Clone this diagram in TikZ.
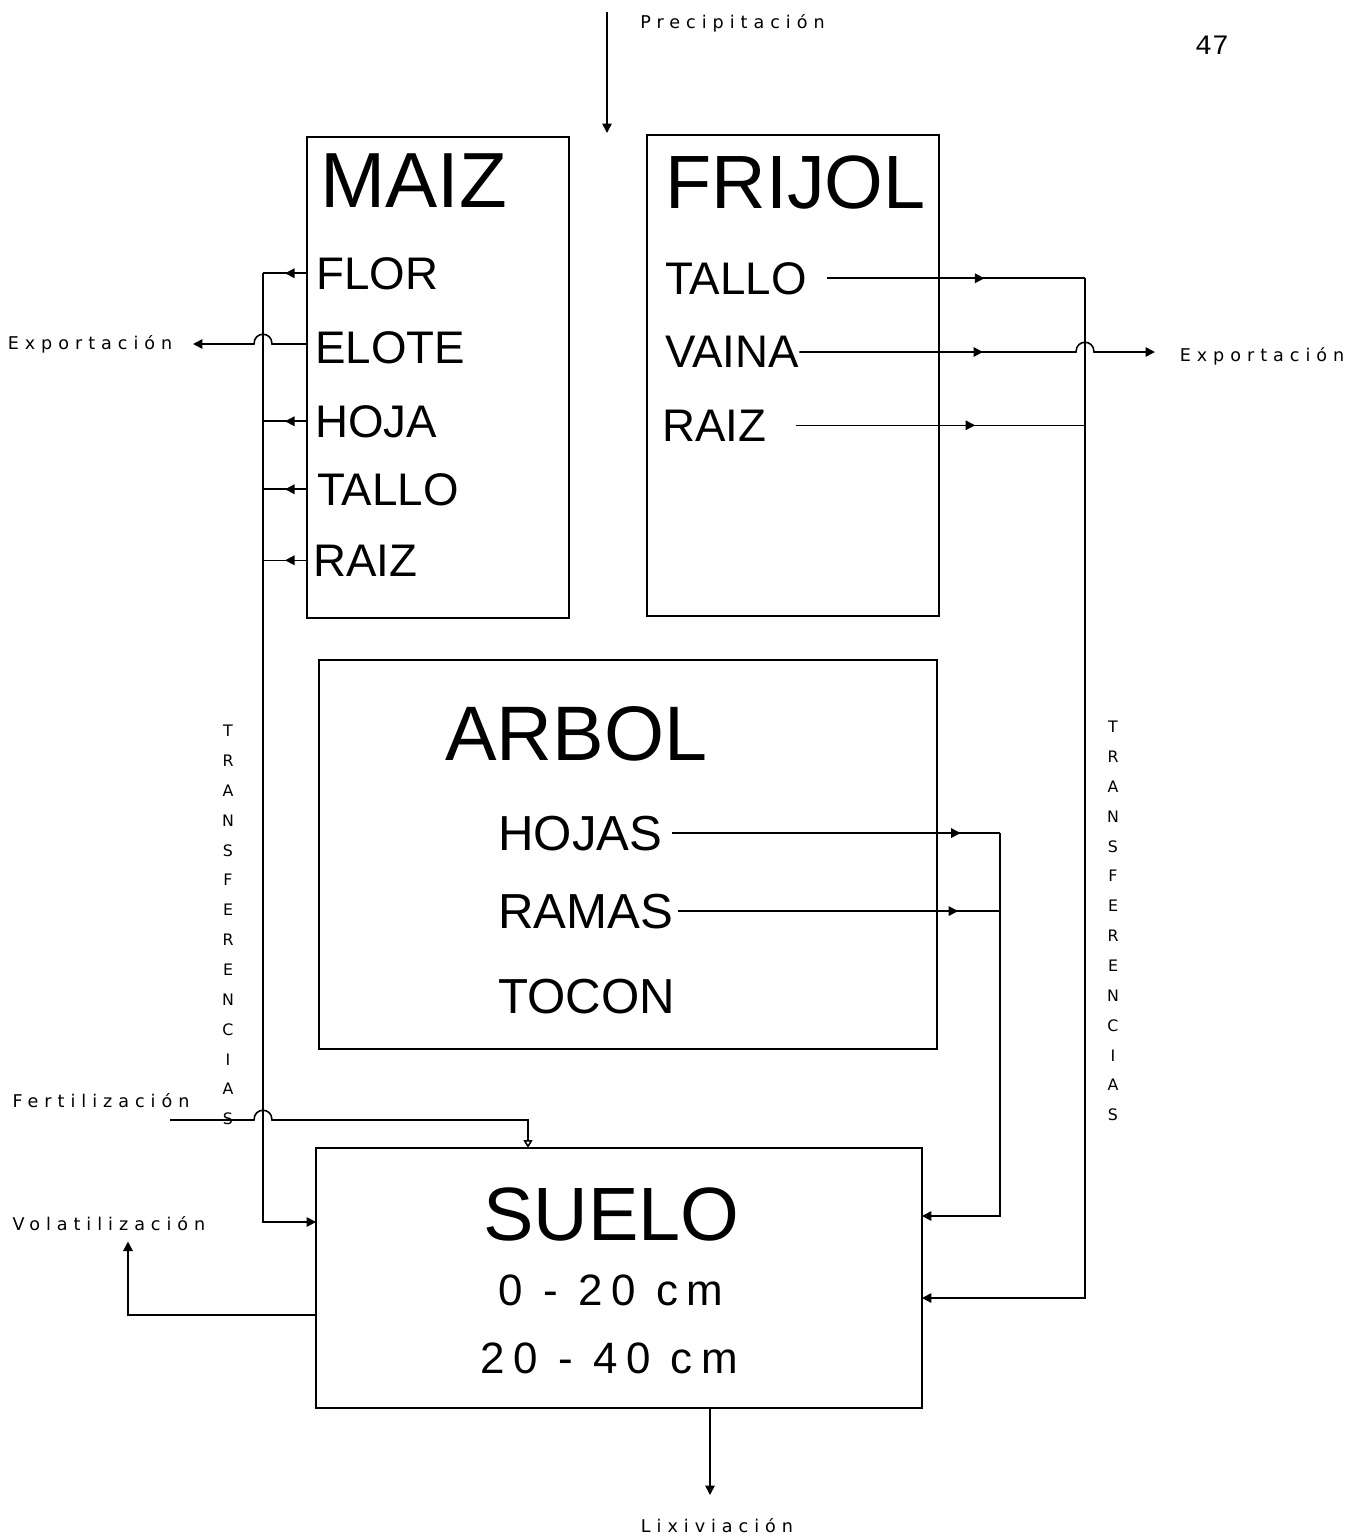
\documentclass[tikz,border=0pt]{standalone}
\usepackage{fontspec}
\setmainfont{Liberation Sans}
\newfontfamily\flowfont[LetterSpace=34]{DejaVu Sans}
\newfontfamily\depthfont[LetterSpace=19]{Liberation Sans}
\newfontfamily\pagefont{Liberation Mono}
\usetikzlibrary{arrows.meta,calc,decorations.markings}

\begin{document}
\begin{tikzpicture}[x=0.02cm,y=-0.02cm]
\tikzset{
  box/.style={draw=black,line width=1pt,inner sep=0pt,outer sep=0pt},
  boxtitle/.style={anchor=base west,inner sep=0pt,font=\fontsize{43}{46}\selectfont},
  partlabel/.style={anchor=base west,inner sep=0pt,font=\fontsize{26}{28}\selectfont},
  flowlabel/.style={inner sep=0pt,font=\flowfont\fontsize{10}{12}\selectfont},
  stacklabel/.style={inner sep=0pt,align=center,font=\flowfont\fontsize{9}{17}\selectfont},
  flow/.style={draw=black,line width=0.9pt,line join=miter},
  flowtip/.style={flow,-{Triangle[length=1.9mm,width=1.9mm]}},
  midarrow/.style={flow,postaction={decorate},decoration={markings,mark=at position #1 with {\arrow{Triangle[length=1.9mm,width=1.9mm]}}}}
}
\useasboundingbox (0,0) rectangle (1353,1536);

% compartments
\node[box,minimum width=5.24cm,minimum height=9.62cm] (n_maiz) at (438,377.5) {};
\node[box,minimum width=5.84cm,minimum height=9.62cm] (n_frijol) at (793,375.5) {};
\node[box,minimum width=12.36cm,minimum height=7.78cm] (n_arbol) at (628,854.5) {};
\node[box,minimum width=12.12cm,minimum height=5.2cm] (n_suelo) at (619,1278) {};

\node[boxtitle,font=\fontsize{44.5}{47}\selectfont] (n_maiz_t) at (320,207) {MAIZ};
\node[partlabel] (n_flor) at (316,289) {FLOR};
\node[partlabel] (n_elote) at (315,363) {ELOTE};
\node[partlabel] (n_hoja) at (315,437) {HOJA};
\node[partlabel] (n_mtallo) at (317,505) {TALLO};
\node[partlabel] (n_mraiz) at (313,576) {RAIZ};

\node[boxtitle] (n_frijol_t) at (665,208) {FRIJOL};
\node[partlabel] (n_ftallo) at (665,294) {TALLO};
\node[partlabel] (n_vaina) at (665,367) {VAINA};
\node[partlabel] (n_fraiz) at (662,441) {RAIZ};

\node[boxtitle,font=\fontsize{44}{47}\selectfont] (n_arbol_t) at (445,760) {ARBOL};
\node[partlabel,font=\fontsize{28}{30}\selectfont] (n_hojas) at (498,850) {HOJAS};
\node[partlabel,font=\fontsize{28}{30}\selectfont] (n_ramas) at (498,928) {RAMAS};
\node[partlabel,font=\fontsize{28}{30}\selectfont] (n_tocon) at (498,1013) {TOCON};

\node[boxtitle] (n_suelo_t) at (483,1240) {SUELO};
\node[partlabel,font=\depthfont\fontsize{25}{28}\selectfont] (n_d1) at (498,1305) {0 - 20 cm};
\node[partlabel,font=\depthfont\fontsize{25}{28}\selectfont] (n_d2) at (480,1373) {20 - 40 cm};

% inputs and outputs
\node[flowlabel,anchor=base west] (n_precip) at (640,28) {Precipitación};
\node[flowlabel] (n_exp_l) at (90,344) {Exportación};
\node[flowlabel] (n_exp_r) at (1262,356) {Exportación};
\node[flowlabel] (n_fert) at (101,1101) {Fertilización};
\node[flowlabel] (n_volat) at (109,1224) {Volatilización};
\node[flowlabel] (n_lixiv) at (717,1526) {Lixiviación};
\node[stacklabel] (n_transf_l) at (228,925) {T\\R\\A\\N\\S\\F\\E\\R\\E\\N\\C\\I\\A\\S};
\node[stacklabel] (n_transf_r) at (1113,921) {T\\R\\A\\N\\S\\F\\E\\R\\E\\N\\C\\I\\A\\S};
\node[inner sep=0pt,font=\pagefont\fontsize{16}{18}\selectfont] (n_page) at (1212,45) {47};

\coordinate (c_precip_a) at (607,12);
\coordinate (c_precip_b) at (607,133);
\coordinate (c_ltrunk) at (263,1222);
\coordinate (c_rtrunk) at (1085,1298);
\coordinate (c_atrunk) at (1000,1216);
\coordinate (c_hop_elote) at (263,344);
\coordinate (c_exp_l) at (193,344);
\coordinate (c_hop_vaina) at (1085,352);
\coordinate (c_exp_r) at (1155,352);
\coordinate (c_hop_fert) at (263,1120);
\coordinate (c_fert_a) at (170,1120);
\coordinate (c_fert_b) at (528,1120);
\coordinate (c_volat) at (128,1315);
\coordinate (c_lixiv) at (710,1495);

\draw[flowtip] (c_precip_a) -- (c_precip_b);

% maiz -> left transfer line
\draw[midarrow=0.5] (n_maiz.west |- n_flor) -- (c_ltrunk |- n_flor);
\draw[midarrow=0.5] (n_maiz.west |- n_hoja) -- (c_ltrunk |- n_hoja);
\draw[midarrow=0.5] (n_maiz.west |- n_mtallo) -- (c_ltrunk |- n_mtallo);
\draw[midarrow=0.5] (n_maiz.west |- n_mraiz) -- (c_ltrunk |- n_mraiz);
\draw[flowtip] (c_ltrunk |- n_flor) -- (c_ltrunk) -- (n_suelo.west |- c_ltrunk);
\draw[flowtip] (n_maiz.west |- c_hop_elote) -- ($(c_hop_elote)+(9,0)$)
  .. controls ($(c_hop_elote)+(9,-13)$) and ($(c_hop_elote)+(-9,-13)$) .. ($(c_hop_elote)+(-9,0)$) -- (c_exp_l);

% frijol -> right transfer line
\draw[midarrow=0.61] ([xshift=0.4cm]n_ftallo.east) -- (c_rtrunk |- n_ftallo);
\draw[midarrow=0.62] ([xshift=0.58cm]n_fraiz.east) -- (c_rtrunk |- n_fraiz);
\draw[flowtip] (c_rtrunk |- n_ftallo) -- (c_rtrunk) -- (n_suelo.east |- c_rtrunk);
\draw[midarrow=0.5,-{Triangle[length=1.9mm,width=1.9mm]}] (n_vaina.east |- c_hop_vaina) -- ($(c_hop_vaina)+(-9,0)$)
  .. controls ($(c_hop_vaina)+(-9,-13)$) and ($(c_hop_vaina)+(9,-13)$) .. ($(c_hop_vaina)+(9,0)$) -- (c_exp_r);

% arbol -> suelo
\draw[midarrow=0.88] ([xshift=0.18cm]n_hojas.east) -- (c_atrunk |- n_hojas);
\draw[midarrow=0.87] ([xshift=0.08cm]n_ramas.east) -- (c_atrunk |- n_ramas);
\draw[flowtip] (c_atrunk |- n_hojas) -- (c_atrunk) -- (n_suelo.east |- c_atrunk);

% suelo exchanges
\draw[flow,-{Triangle[open,length=1.6mm,width=1.8mm]}] (c_fert_a) -- ($(c_hop_fert)+(-9,0)$)
  .. controls ($(c_hop_fert)+(-9,-13)$) and ($(c_hop_fert)+(9,-13)$) .. ($(c_hop_fert)+(9,0)$) -- (c_fert_b) -- (c_fert_b |- n_suelo.north);
\draw[flowtip,shorten >=0.2cm] (n_suelo.west |- c_volat) -- (c_volat) -- (c_volat |- n_volat.south);
\draw[flowtip] (n_suelo.south -| c_lixiv) -- (c_lixiv);
\end{tikzpicture}
\end{document}
